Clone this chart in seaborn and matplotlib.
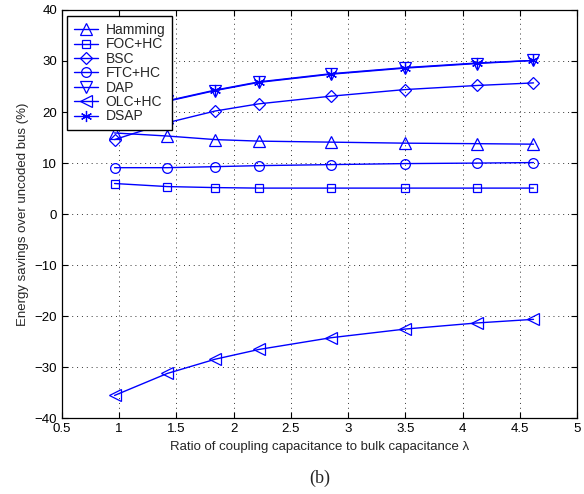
import matplotlib
matplotlib.use("Agg")
import matplotlib.pyplot as plt
import seaborn as sns

# ratio of coupling capacitance to bulk capacitance
lam = [0.96, 1.42, 1.84, 2.22, 2.85, 3.50, 4.13, 4.62]

hamming = [15.9, 15.3, 14.6, 14.3, 14.1, 13.9, 13.8, 13.7]
foc_hc = [6.0, 5.4, 5.2, 5.1, 5.1, 5.1, 5.1, 5.1]
bsc = [14.6, 17.9, 20.2, 21.6, 23.1, 24.4, 25.2, 25.7]
ftc_hc = [9.1, 9.1, 9.3, 9.5, 9.7, 9.9, 10.0, 10.1]
dap = [20.5, 22.1, 24.2, 25.8, 27.4, 28.6, 29.5, 30.1]
olc_hc = [-35.5, -31.2, -28.4, -26.5, -24.2, -22.5, -21.3, -20.6]
dsap = [20.6, 22.2, 24.3, 25.9, 27.5, 28.7, 29.6, 30.1]

names = ["Hamming", "FOC+HC", "BSC", "FTC+HC", "DAP", "OLC+HC", "DSAP"]
series = [hamming, foc_hc, bsc, ftc_hc, dap, olc_hc, dsap]
markers = ["^", "s", "D", "o", "v", "<", (6, 2, 0)]
sizes = [8, 6, 6, 7, 8, 8, 8]

sns.set_style("ticks")
plt.rcParams["font.family"] = ["Liberation Sans", "DejaVu Sans"]

fig = plt.figure(figsize=(5.84, 4.94), dpi=100)
ax = fig.add_axes([0.106, 0.153, 0.882, 0.827])

for name, vals, m, ms in zip(names, series, markers, sizes):
    sns.lineplot(x=lam, y=vals, ax=ax, label=name, color="blue",
                 marker=m, markersize=ms, markerfacecolor="none",
                 markeredgecolor="blue", markeredgewidth=0.9, linewidth=1)

ax.set_xlim(0.5, 5)
ax.set_ylim(-40, 40)
ax.set_xticks([0.5, 1, 1.5, 2, 2.5, 3, 3.5, 4, 4.5, 5])
ax.set_xticklabels(["0.5", "1", "1.5", "2", "2.5", "3", "3.5", "4", "4.5", "5"])
ax.set_yticks(range(-40, 41, 10))
ax.grid(True, linestyle=(0, (1, 4)), color="black", linewidth=0.7, alpha=0.8)
ax.tick_params(direction="in", top=True, right=True, labelsize=9.5, length=4,
               width=0.8, colors="black")
for sp in ax.spines.values():
    sp.set_linewidth(0.9)
    sp.set_color("black")

ax.set_xlabel("Ratio of coupling capacitance to bulk capacitance \u03bb", fontsize=9.5)
ax.set_ylabel("Energy savings over uncoded bus (%)", fontsize=9.5)

leg = ax.legend(loc="upper left", bbox_to_anchor=(0.0103, 0.985), borderaxespad=0,
                fontsize=10, fancybox=False, framealpha=1, edgecolor="black",
                handlelength=1.7, labelspacing=0.03, borderpad=0.5, handletextpad=0.55)
leg.get_frame().set_linewidth(1.0)

fig.text(0.547, 1 - 478 / 494, "(b)", ha="center", va="center", fontsize=13,
         family=["Liberation Serif", "DejaVu Serif"])

fig.savefig("out.png", dpi=100)
